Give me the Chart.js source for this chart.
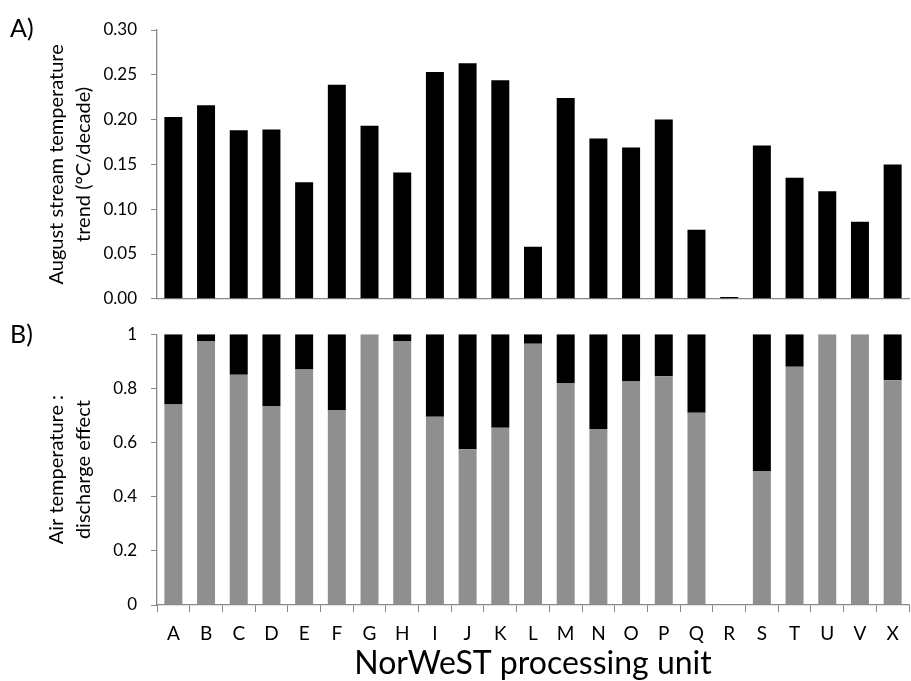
<!DOCTYPE html>
<html lang="en">
<head>
<meta charset="UTF-8">
<title>NorWeST stream temperature trends</title>
<script src="https://cdn.jsdelivr.net/npm/chart.js@4.4.0/dist/chart.umd.min.js"></script>
<style>
  body { margin: 0; background: #fff; }
  #wrap { position: relative; width: 911px; height: 681px; font-family: Lato, "Liberation Sans", sans-serif; }
  .box { position: absolute; left: 0; width: 911px; }
  .tag { position: absolute; font-size: 25px; color: #000; }
</style>
</head>
<body>
<div id="wrap">
  <div class="box" style="top:0; height:323px;"><canvas id="trend" width="911" height="323"></canvas></div>
  <div class="box" style="top:310px; height:371px;"><canvas id="ratio" width="911" height="371"></canvas></div>
  <div class="tag" style="left:10px; top:12px;">A)</div>
  <div class="tag" style="left:10px; top:318px;">B)</div>
</div>
<script>
// processing units
const units = ['A','B','C','D','E','F','G','H','I','J','K','L','M','N','O','P','Q','R','S','T','U','V','X'];
// A) August stream temperature trend (°C/decade)
const trend = [0.203, 0.216, 0.188, 0.189, 0.130, 0.239, 0.193, 0.141, 0.253, 0.263, 0.244, 0.058,
               0.224, 0.179, 0.169, 0.200, 0.077, 0.002, 0.171, 0.135, 0.120, 0.086, 0.150];
// B) share of the effect from air temperature (grey) and discharge (black)
const airShare = [0.74, 0.975, 0.85, 0.735, 0.87, 0.72, 1.0, 0.975, 0.695, 0.575, 0.655, 0.965,
                  0.82, 0.65, 0.825, 0.845, 0.71, 0, 0.495, 0.88, 1.0, 1.0, 0.83];
const dischargeShare = [0.26, 0.025, 0.15, 0.265, 0.13, 0.28, 0, 0.025, 0.305, 0.425, 0.345, 0.035,
                        0.18, 0.35, 0.175, 0.155, 0.29, 0, 0.505, 0.12, 0, 0, 0.17];

const FONT = 'Lato, "Liberation Sans", sans-serif';
const AXIS = '#888';

function yTitle(lines) {
  return { display: true, text: lines, color: '#000',
           font: { family: FONT, size: 20, lineHeight: 1.35 }, padding: { top: 43, bottom: 0 } };
}

// top chart
new Chart(document.getElementById('trend'), {
  type: 'bar',
  data: {
    labels: units,
    datasets: [{ data: trend, backgroundColor: '#000', barPercentage: 0.55, categoryPercentage: 1 }]
  },
  options: {
    responsive: false, animation: false,
    layout: { padding: { top: 30, right: 2, left: 0, bottom: 0 } },
    plugins: { legend: { display: false }, tooltip: { enabled: false } },
    scales: {
      x: {
        grid: { display: false },
        border: { display: true, color: AXIS, width: 1.3 },
        ticks: { display: false },
        afterFit: s => { s.height = 12; }
      },
      y: {
        min: 0, max: 0.30,
        grid: { drawOnChartArea: false, drawTicks: true, tickLength: 6, color: AXIS },
        border: { display: true, color: AXIS, width: 1.3 },
        ticks: { stepSize: 0.05, padding: 14, color: '#000', font: { family: FONT, size: 17 },
                 callback: v => v.toFixed(2) },
        title: yTitle(['August stream temperature', 'trend (°C/decade)']),
        afterFit: s => { s.width = 157; }
      }
    }
  }
});

// bottom chart
new Chart(document.getElementById('ratio'), {
  type: 'bar',
  data: {
    labels: units,
    datasets: [
      { label: 'Air temperature', data: airShare, backgroundColor: '#8f8f8f', barPercentage: 0.55, categoryPercentage: 1 },
      { label: 'Discharge', data: dischargeShare, backgroundColor: '#000', barPercentage: 0.55, categoryPercentage: 1 }
    ]
  },
  options: {
    responsive: false, animation: false,
    layout: { padding: { top: 22, right: 2, left: 0, bottom: 0 } },
    plugins: { legend: { display: false }, tooltip: { enabled: false } },
    scales: {
      x: {
        stacked: true,
        grid: { drawOnChartArea: false, drawTicks: true, tickLength: 7, color: AXIS },
        border: { display: true, color: AXIS, width: 1.3 },
        ticks: { padding: 10, color: '#000', font: { family: FONT, size: 19 } },
        title: { display: true, text: 'NorWeST processing unit', color: '#000',
                 font: { family: FONT, size: 32, lineHeight: 1.1 }, padding: { top: 0, bottom: 0 } },
        afterFit: s => { s.height = 76; }
      },
      y: {
        stacked: true, min: 0, max: 1,
        grid: { drawOnChartArea: false, drawTicks: true, tickLength: 6, color: AXIS },
        border: { display: true, color: AXIS, width: 1.3 },
        ticks: { stepSize: 0.2, padding: 14, color: '#000', font: { family: FONT, size: 17 },
                 callback: v => String(Math.round(v * 10) / 10) },
        title: yTitle(['Air temperature :', 'discharge effect']),
        afterFit: s => { s.width = 157; }
      }
    }
  }
});
</script>
</body>
</html>
